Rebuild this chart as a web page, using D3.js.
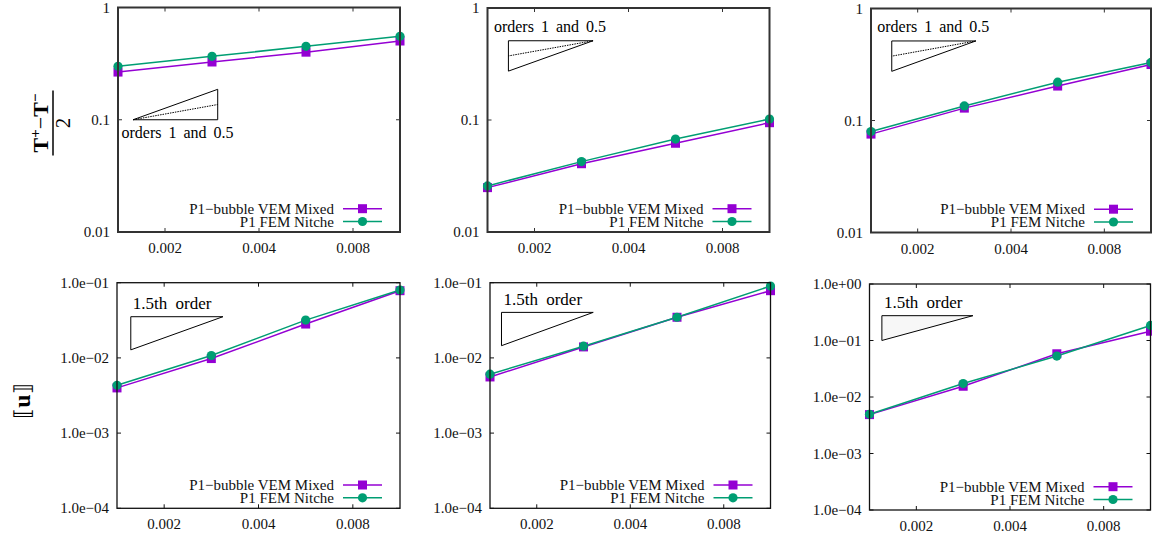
<!DOCTYPE html>
<html><head><meta charset="utf-8">
<script src="https://cdn.jsdelivr.net/npm/d3@7"></script>
<style>
body{margin:0;background:#fff;}
svg{display:block;}
text{font-family:'Liberation Serif','DejaVu Serif',serif;}
</style></head>
<body><svg id="c" width="1152" height="540"></svg>
<script>
// ---- data ----
const hValues = [0.0014142, 0.0028284, 0.0056569, 0.0113137];
const xTicks = [0.002, 0.004, 0.008];
const topYTicks = [0.01, 0.1, 1];
const topYTickLabels = ["0.01", "0.1", "1"];
const botYTicks12 = [1e-4, 1e-3, 1e-2, 1e-1];
const botYTickLabels12 = ["1.0e\u221204", "1.0e\u221203", "1.0e\u221202", "1.0e\u221201"];
const botYTicks3 = [1e-4, 1e-3, 1e-2, 1e-1, 1];
const botYTickLabels3 = ["1.0e\u221204", "1.0e\u221203", "1.0e\u221202", "1.0e\u221201", "1.0e+00"];
const seriesNames = ["P1\u2212bubble VEM Mixed", "P1 FEM Nitche"];

const tVem1 = [0.266, 0.327, 0.400, 0.503];
const tFem1 = [0.299, 0.367, 0.451, 0.554];
const tVem2 = [0.0249, 0.0407, 0.0620, 0.0946];
const tFem2 = [0.0258, 0.0425, 0.0676, 0.102];
const tVem3 = [0.0756, 0.129, 0.203, 0.316];
const tFem3 = [0.0798, 0.135, 0.220, 0.330];
const uVem1 = [0.00399, 0.0098, 0.0282, 0.0783];
const uFem1 = [0.00433, 0.01076, 0.0318, 0.0800];
const uVem2 = [0.00558, 0.0140, 0.0347, 0.0783];
const uFem2 = [0.00607, 0.0143, 0.0347, 0.0903];
const uVem3 = [0.00488, 0.0155, 0.0582, 0.146];
const uFem3 = [0.00495, 0.0173, 0.0530, 0.1845];

// slope triangles (data coords): x0, x1, yAnchor
const triTop1 = [0.00158, 0.00295, 0.1];
const triTop2 = [0.00165, 0.00308, 0.51];
const triTop3 = [0.00165, 0.00308, 0.513];
const triBot1 = [0.001565, 0.00308, 0.0353];
const triBot2 = [0.00154, 0.00304, 0.0403];
const triBot3 = [0.00155, 0.00304, 0.275];

// ---- layout ----
const FONT = "'Liberation Serif','DejaVu Serif',serif";
const COLORS = ["#9400d3", "#009e73"];
const panels = [
  {l:118, r:400, t:7.5, b:232, ydom:[0.01,1], yt:topYTicks, ytl:topYTickLabels, s:[tVem1,tFem1], tri:triTop1, kind:"top1", row:0},
  {l:487.5, r:769.5, t:8, b:232, ydom:[0.01,1], yt:topYTicks, ytl:topYTickLabels, s:[tVem2,tFem2], tri:triTop2, kind:"top2", row:0},
  {l:871, r:1151, t:8.5, b:232.5, ydom:[0.01,1], yt:topYTicks, ytl:topYTickLabels, s:[tVem3,tFem3], tri:triTop3, kind:"top2", row:0},
  {l:117, r:400, t:282.7, b:508.3, ydom:[1e-4,1e-1], yt:botYTicks12, ytl:botYTickLabels12, s:[uVem1,uFem1], tri:triBot1, kind:"bot", row:1},
  {l:490, r:770.5, t:282.7, b:508.3, ydom:[1e-4,1e-1], yt:botYTicks12, ytl:botYTickLabels12, s:[uVem2,uFem2], tri:triBot2, kind:"bot", row:1},
  {l:869.5, r:1150.5, t:284, b:510, ydom:[1e-4,1], yt:botYTicks3, ytl:botYTickLabels3, s:[uVem3,uFem3], tri:triBot3, kind:"bot", row:1, fillTri:true}
];

const svg = d3.select("#c").attr("font-family", FONT);

panels.forEach(p => {
  const x = d3.scaleLog().domain([hValues[0], hValues[hValues.length-1]]).range([p.l, p.r]);
  const y = d3.scaleLog().domain(p.ydom).range([p.b, p.t]);
  const g = svg.append("g").attr("font-family", FONT);
  const frameW = p.row === 0 ? 2 : 1.3;
  const frameC = p.row === 0 ? "#333" : "#111";
  const tickLen = 4;

  xTicks.forEach(v => {
    g.append("line").attr("x1", x(v)).attr("x2", x(v)).attr("y1", p.b).attr("y2", p.b - tickLen).attr("stroke", frameC).attr("stroke-width", 1);
    g.append("line").attr("x1", x(v)).attr("x2", x(v)).attr("y1", p.t).attr("y2", p.t + tickLen).attr("stroke", frameC).attr("stroke-width", 1);
  });
  p.yt.forEach(v => {
    g.append("line").attr("x1", p.l).attr("x2", p.l + tickLen).attr("y1", y(v)).attr("y2", y(v)).attr("stroke", frameC).attr("stroke-width", 1);
    g.append("line").attr("x1", p.r).attr("x2", p.r - tickLen).attr("y1", y(v)).attr("y2", y(v)).attr("stroke", frameC).attr("stroke-width", 1);
  });
  g.selectAll(".xt").data(xTicks).enter().append("text")
    .attr("x", d => x(d)).attr("y", p.b + 21).attr("text-anchor", "middle").attr("font-family", FONT)
    .attr("font-size", 15).attr("fill", "#111").text(d => d3.format(".3f")(d));
  g.selectAll(".yt").data(p.yt).enter().append("text")
    .attr("x", p.l - 8).attr("y", d => y(d) + 5).attr("text-anchor", "end").attr("font-family", FONT)
    .attr("font-size", 15).attr("fill", "#111").text((d, i) => p.ytl[i]);

  const [tx0, tx1, ty] = p.tri;
  const ann = g.append("g");
  if (p.kind === "top1") {
    const yTop = ty * (tx1 / tx0), yHalf = ty * Math.sqrt(tx1 / tx0);
    ann.append("path").attr("d", `M${x(tx0)},${y(ty)}L${x(tx1)},${y(ty)}L${x(tx1)},${y(yTop)}Z`)
      .attr("fill", "none").attr("stroke", "#000").attr("stroke-width", 1);
    ann.append("line").attr("x1", x(tx0)).attr("y1", y(ty)).attr("x2", x(tx1)).attr("y2", y(yHalf))
      .attr("stroke", "#000").attr("stroke-width", 1).attr("stroke-dasharray", "1.5,1");
    ann.append("text").attr("x", x(tx0) - 11.5).attr("y", y(ty) + 18).attr("font-family", FONT).attr("font-size", 16).attr("word-spacing", 3).text("orders 1 and 0.5");
  } else if (p.kind === "top2") {
    const yBot = ty / (tx1 / tx0), yHalf = ty / Math.sqrt(tx1 / tx0);
    ann.append("path").attr("d", `M${x(tx0)},${y(yBot)}L${x(tx0)},${y(ty)}L${x(tx1)},${y(ty)}Z`)
      .attr("fill", "none").attr("stroke", "#000").attr("stroke-width", 1);
    ann.append("line").attr("x1", x(tx1)).attr("y1", y(ty)).attr("x2", x(tx0)).attr("y2", y(yHalf))
      .attr("stroke", "#000").attr("stroke-width", 1).attr("stroke-dasharray", "1.5,1");
    ann.append("text").attr("x", x(tx0) - 14.5).attr("y", y(ty) - 9).attr("font-family", FONT).attr("font-size", 16).attr("word-spacing", 3).text("orders 1 and 0.5");
  } else {
    const yBot = ty / Math.pow(tx1 / tx0, 1.5);
    ann.append("path").attr("d", `M${x(tx0)},${y(yBot)}L${x(tx0)},${y(ty)}L${x(tx1)},${y(ty)}Z`)
      .attr("fill", p.fillTri ? "#f7f7f7" : "none").attr("stroke", "#000").attr("stroke-width", 1);
    ann.append("text").attr("x", x(tx0) + 2).attr("y", y(ty) - 7.5).attr("font-family", FONT).attr("font-size", 17).attr("word-spacing", 4).text("1.5th order");
  }

  p.s.forEach((vals, si) => {
    const pts = hValues.map((h, i) => [h, vals[i]]);
    g.append("path").datum(pts)
      .attr("d", d3.line().x(d => x(d[0])).y(d => y(d[1])))
      .attr("fill", "none").attr("stroke", COLORS[si]).attr("stroke-width", 1.5);
  });
  p.s.forEach((vals, si) => {
    const pts = hValues.map((h, i) => [h, vals[i]]);
    if (si === 0) {
      g.selectAll(null).data(pts).enter().append("rect")
        .attr("x", d => x(d[0]) - 4.5).attr("y", d => y(d[1]) - 4.5)
        .attr("width", 9).attr("height", 9).attr("fill", COLORS[si]);
    } else {
      g.selectAll(null).data(pts).enter().append("circle")
        .attr("cx", d => x(d[0])).attr("cy", d => y(d[1])).attr("r", 4.6).attr("fill", COLORS[si]);
    }
  });

  seriesNames.forEach((name, si) => {
    const ry = p.b - 23.3 + si * 12.8;
    g.append("text").attr("x", p.r - 66).attr("y", ry + 5).attr("text-anchor", "end").attr("font-family", FONT)
      .attr("font-size", 15).attr("fill", "#111").text(name);
    g.append("line").attr("x1", p.r - 57).attr("x2", p.r - 18).attr("y1", ry).attr("y2", ry)
      .attr("stroke", COLORS[si]).attr("stroke-width", 1.5);
    if (si === 0) g.append("rect").attr("x", p.r - 37.5 - 4.5).attr("y", ry - 4.5).attr("width", 9).attr("height", 9).attr("fill", COLORS[si]);
    else g.append("circle").attr("cx", p.r - 37.5).attr("cy", ry).attr("r", 4.6).attr("fill", COLORS[si]);
  });

  g.append("rect").attr("x", p.l).attr("y", p.t).attr("width", p.r - p.l).attr("height", p.b - p.t)
    .attr("fill", "none").attr("stroke", frameC).attr("stroke-width", frameW);
});

const yt1 = svg.append("g").attr("transform", "translate(53,123) rotate(-90)");
const num = yt1.append("text").attr("x", 0).attr("y", -5).attr("text-anchor", "middle").attr("font-family", FONT)
  .attr("font-size", 22).attr("font-weight", "bold");
num.append("tspan").text("T");
num.append("tspan").attr("dy", -8).attr("font-size", 15).text("+");
num.append("tspan").attr("dy", 8).attr("font-weight", "normal").text("\u2212");
num.append("tspan").text("T");
num.append("tspan").attr("dy", -8).attr("font-size", 15).text("\u2212");
yt1.append("line").attr("x1", -32.5).attr("x2", 32.5).attr("y1", 0).attr("y2", 0).attr("stroke", "#000").attr("stroke-width", 1.5);
yt1.append("text").attr("x", 0).attr("y", 17).attr("text-anchor", "middle").attr("font-family", FONT).attr("font-size", 21).text("2");

const yt2 = svg.append("g").attr("transform", "translate(30,401) rotate(-90)");
const ut = yt2.append("text").attr("x", 0).attr("y", 0).attr("text-anchor", "middle").attr("font-family", FONT).attr("font-size", 24);
ut.append("tspan").attr("font-family", "'DejaVu Serif',serif").attr("font-size", 22).text("\u27e6");
ut.append("tspan").attr("font-weight", "bold").text("u");
ut.append("tspan").attr("font-family", "'DejaVu Serif',serif").attr("font-size", 22).text("\u27e7");
</script></body></html>
